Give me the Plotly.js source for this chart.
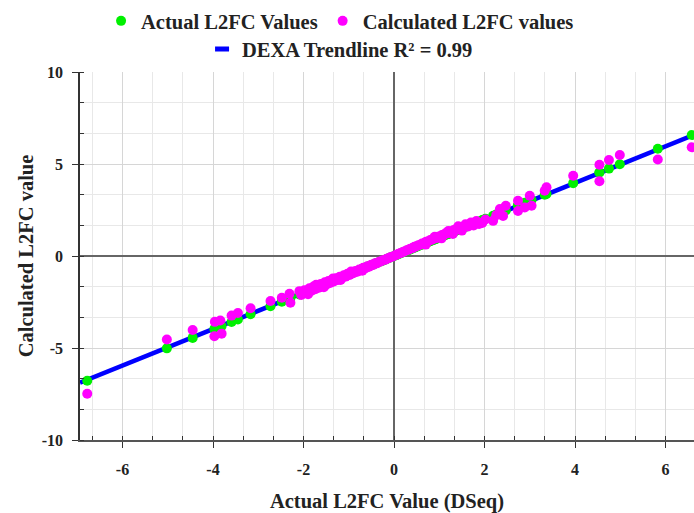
<!DOCTYPE html>
<html>
<head>
<meta charset="utf-8">
<script src="https://cdn.plot.ly/plotly-3.0.1.min.js"></script>
<style>html,body{margin:0;padding:0;background:#fff;}#chart{width:694px;height:513px;}</style>
</head>
<body>
<div id="chart"></div>
<script>
// Actual L2FC values (DSeq), one per gene
const actualX = [
  -6.78, -5.02, -4.45, -3.96, -3.97, -3.84, -3.81, -3.59, -3.45, -3.17, -2.73, -2.48, -2.31, -2.29, -2.09, -2.05,
  -1.98, -1.92, -1.87, -1.83, -1.78, -1.74, -1.70, -1.66, -1.62, -1.58, -1.53, -1.49, -1.45, -1.41, -1.37, -1.33,
  -1.28, -1.24, -1.20, -1.16, -1.11, -1.07, -1.03, -0.98, -0.94, -0.90, -0.85, -0.81, -0.77, -0.72, -0.68, -0.63,
  -0.59, -0.55, -0.50, -0.46, -0.42, -0.38, -0.33, -0.29, -0.25, -0.20, -0.16, -0.12, -0.08, -0.04,
  0.02, 0.06, 0.10, 0.15, 0.19, 0.23, 0.28, 0.32, 0.36, 0.41, 0.45, 0.49, 0.54, 0.58, 0.62, 0.67, 0.71, 0.75,
  0.80, 0.84, 0.88, 0.93, 0.97, 1.01, 1.06, 1.10, 1.14, 1.19, 1.23, 1.27, 1.32, 1.36, 1.40, 1.45,
  1.58, 1.64, 1.70, 1.76, 1.82, 1.88, 1.95, 2.02, 2.19, 2.26, 2.34, 2.41, 2.47, 2.74, 2.74, 2.89, 3.00, 3.04,
  3.33, 3.37, 3.96, 4.54, 4.54, 4.75, 4.99, 5.83, 6.58,
  -1.90, -1.72, -1.55, -1.35, -1.18, -0.95, -0.70, 0.70, 0.90, 1.05, 1.20, 1.30, 1.42, 1.50
];
// Calculated L2FC values (DEXA), same genes
const calculatedY = [
  -7.49, -4.54, -4.02, -3.58, -4.36, -3.51, -4.22, -3.24, -3.10, -2.84, -2.45, -2.27, -2.05, -2.54, -1.91, -2.12,
  -1.86, -2.02, -1.75, -1.90, -1.66, -1.81, -1.58, -1.72, -1.52, -1.63, -1.43, -1.55, -1.36, -1.47, -1.29, -1.38,
  -1.21, -1.30, -1.13, -1.21, -1.05, -1.12, -0.97, -1.03, -0.89, -0.94, -0.81, -0.85, -0.73, -0.76, -0.64, -0.67,
  -0.56, -0.58, -0.47, -0.49, -0.39, -0.40, -0.31, -0.30, -0.23, -0.21, -0.15, -0.12, -0.07, -0.04,
  0.03, 0.07, 0.12, 0.16, 0.21, 0.25, 0.31, 0.34, 0.40, 0.43, 0.50, 0.52, 0.59, 0.61, 0.68, 0.70, 0.78, 0.79,
  0.87, 0.88, 0.96, 0.97, 1.05, 1.06, 1.14, 1.15, 1.23, 1.24, 1.32, 1.33, 1.41, 1.42, 1.50, 1.52,
  1.72, 1.60, 1.82, 1.66, 1.90, 1.74, 1.80, 1.98, 1.91, 2.22, 2.55, 2.18, 2.73, 2.45, 3.00, 2.64, 3.27, 2.73,
  3.55, 3.73, 4.36, 4.96, 4.06, 5.22, 5.49, 5.24, 5.91,
  -2.08, -1.56, -1.70, -1.22, -1.30, -0.84, -0.80, 0.62, 1.04, 0.96, 1.36, 1.20, 1.62, 1.38
];
// DEXA trendline end points
const trendX = [-6.94, 6.63];
const trendY = [-6.89, 6.58];
// Tick labels
const xTickVals = [-6, -4, -2, 0, 2, 4, 6];
const xTickText = ['-6', '-4', '-2', '0', '2', '4', '6'];
const yTickVals = [-10, -5, 0, 5, 10];
const yTickText = ['-10', '-5', '0', '5', '10'];

const serif = 'Liberation Serif, Times New Roman, serif';

const traces = [
  {
    x: trendX, y: trendY, type: 'scatter', mode: 'lines',
    line: {color: '#0000ff', width: 4.5},
    showlegend: false, hoverinfo: 'skip'
  },
  {
    x: actualX, y: actualX, type: 'scatter', mode: 'markers',
    name: 'Actual L2FC Values',
    marker: {color: '#00f000', size: 10},
    legend: 'legend'
  },
  {
    x: actualX, y: calculatedY, type: 'scatter', mode: 'markers',
    name: 'Calculated L2FC values',
    marker: {color: '#ff00ff', size: 10},
    legend: 'legend'
  },
  {
    x: [null], y: [null], type: 'scatter', mode: 'markers',
    name: 'DEXA Trendline R² = 0.99',
    marker: {symbol: 'line-ew', size: 10, color: '#0000ff', line: {color: '#0000ff', width: 5}},
    legend: 'legend2'
  }
];

const tickFont = {family: serif, size: 16, weight: 'bold', color: '#222'};
const titleFont = {family: serif, size: 20.5, weight: 'bold', color: '#222'};
const legFont = {family: serif, size: 20.5, weight: 'bold', color: '#222'};

const layout = {
  width: 694, height: 513,
  margin: {l: 80, r: 0, t: 72, b: 73},
  paper_bgcolor: '#fff', plot_bgcolor: '#fff',
  showlegend: true,
  legend: {
    orientation: 'h', xref: 'container', yref: 'container',
    x: 0.49, xanchor: 'center', y: 0.959, yanchor: 'middle',
    font: legFont, bgcolor: 'rgba(0,0,0,0)', itemwidth: 30
  },
  legend2: {
    orientation: 'h', xref: 'container', yref: 'container',
    x: 0.49, xanchor: 'center', y: 0.904, yanchor: 'middle',
    font: legFont, bgcolor: 'rgba(0,0,0,0)', itemwidth: 30
  },
  xaxis: {
    range: [-6.94, 6.63], tickmode: 'array', tickvals: xTickVals, ticktext: xTickText,
    showgrid: true, gridcolor: '#d6d6d6', gridwidth: 1,
    zeroline: true, zerolinecolor: '#666', zerolinewidth: 1.5,
    showline: true, linecolor: '#555', linewidth: 1.5,
    ticks: 'outside', ticklen: 6, tickcolor: '#333', tickwidth: 1.2,
    ticklabelstandoff: 8,
    minor: {tick0: 0, dtick: 2/3, showgrid: true, gridcolor: '#e8e8e8', gridwidth: 1,
            ticks: 'inside', ticklen: 4, tickcolor: '#333', tickwidth: 1},
    tickfont: tickFont,
    title: {text: 'Actual L2FC Value (DSeq)', font: titleFont, standoff: 21}
  },
  yaxis: {
    range: [-10, 10], tickmode: 'array', tickvals: yTickVals, ticktext: yTickText,
    showgrid: true, gridcolor: '#d6d6d6', gridwidth: 1,
    zeroline: true, zerolinecolor: '#666', zerolinewidth: 1.5,
    showline: true, linecolor: '#333', linewidth: 1.5,
    ticks: 'outside', ticklen: 6, tickcolor: '#333', tickwidth: 1.2,
    ticklabelstandoff: 6,
    minor: {tick0: 0, dtick: 5/3, showgrid: true, gridcolor: '#e8e8e8', gridwidth: 1,
            ticks: 'inside', ticklen: 4, tickcolor: '#333', tickwidth: 1},
    tickfont: tickFont,
    title: {text: 'Calculated L2FC value', font: titleFont, standoff: 3}
  }
};

Plotly.newPlot('chart', traces, layout, {displayModeBar: false, responsive: false});
</script>
</body>
</html>
